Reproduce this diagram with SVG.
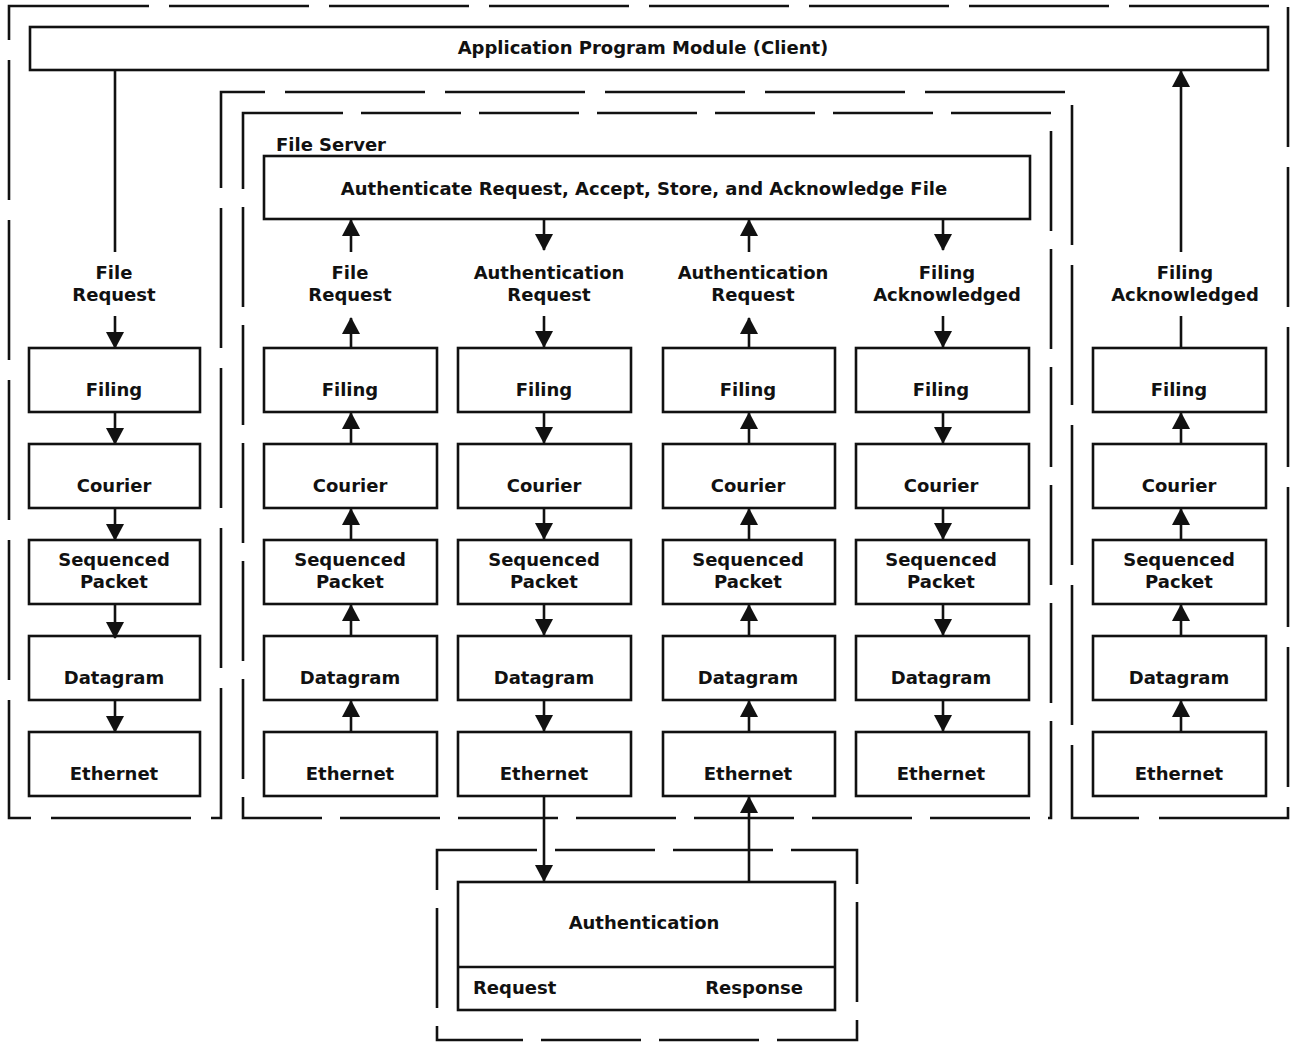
<svg xmlns="http://www.w3.org/2000/svg" width="1291" height="1042" viewBox="0 0 1291 1042">
<style>
.bg{fill:#fff}
.box{fill:#fff;stroke:#111;stroke-width:2.6}
.dash{fill:none;stroke:#111;stroke-width:2.6;stroke-dasharray:140 20}
.dash2{fill:none;stroke:#111;stroke-width:2.6;stroke-dasharray:100 18}
.ln{fill:none;stroke:#111;stroke-width:2.6}
.arr{fill:none;stroke:#111;stroke-width:2.6;marker-end:url(#ah)}
text{font-family:"DejaVu Sans","Open Sans",sans-serif;font-weight:bold;font-size:18px;fill:#111;text-anchor:middle}
.l{text-anchor:start}
.r{text-anchor:end}
</style>
<defs>
<marker id="ah" viewBox="0 0 17 18" refX="16" refY="9" markerWidth="17" markerHeight="18" markerUnits="userSpaceOnUse" orient="auto">
<path d="M0,0 L17,9 L0,18 z" fill="#111"/>
</marker>
</defs>
<rect class="bg" x="0" y="0" width="1291" height="1042"/>

<g id="client-boundary">
<path class="dash" d="M9,6 H1288 V818 H1072 V92 H221 V818 H9 Z"/>
</g>
<g id="server-boundary">
<path class="dash2" d="M243,113 H1051 V818 H243 Z"/>
</g>
<g id="auth-boundary">
<path class="dash2" d="M437,850 H857 V1040 H437 Z"/>
</g>

<g id="app-module">
<rect class="box" x="30" y="27" width="1238" height="43"/>
<text x="643" y="54">Application Program Module (Client)</text>
</g>

<g id="file-server-label">
<text class="l" x="276" y="151">File Server</text>
</g>

<g id="server-app">
<rect class="box" x="264" y="156" width="766" height="63"/>
<text x="644" y="195">Authenticate Request, Accept, Store, and Acknowledge File</text>
</g>

<!-- column 1 -->
<g id="c1-label"><text><tspan x="114" y="279">File</tspan><tspan x="114" y="301">Request</tspan></text></g>
<g id="c1-filing"><rect class="box" x="29" y="348" width="171" height="64"/><text x="114" y="396">Filing</text></g>
<g id="c1-courier"><rect class="box" x="29" y="444" width="171" height="64"/><text x="114" y="492">Courier</text></g>
<g id="c1-sp"><rect class="box" x="29" y="540" width="171" height="64"/><text><tspan x="114" y="566">Sequenced</tspan><tspan x="114" y="588">Packet</tspan></text></g>
<g id="c1-dg"><rect class="box" x="29" y="636" width="171" height="64"/><text x="114" y="684">Datagram</text></g>
<g id="c1-eth"><rect class="box" x="29" y="732" width="171" height="64"/><text x="114" y="780">Ethernet</text></g>

<!-- column 2 -->
<g id="c2-label"><text><tspan x="350" y="279">File</tspan><tspan x="350" y="301">Request</tspan></text></g>
<g id="c2-filing"><rect class="box" x="264" y="348" width="173" height="64"/><text x="350" y="396">Filing</text></g>
<g id="c2-courier"><rect class="box" x="264" y="444" width="173" height="64"/><text x="350" y="492">Courier</text></g>
<g id="c2-sp"><rect class="box" x="264" y="540" width="173" height="64"/><text><tspan x="350" y="566">Sequenced</tspan><tspan x="350" y="588">Packet</tspan></text></g>
<g id="c2-dg"><rect class="box" x="264" y="636" width="173" height="64"/><text x="350" y="684">Datagram</text></g>
<g id="c2-eth"><rect class="box" x="264" y="732" width="173" height="64"/><text x="350" y="780">Ethernet</text></g>

<!-- column 3 -->
<g id="c3-label"><text><tspan x="549" y="279">Authentication</tspan><tspan x="549" y="301">Request</tspan></text></g>
<g id="c3-filing"><rect class="box" x="458" y="348" width="173" height="64"/><text x="544" y="396">Filing</text></g>
<g id="c3-courier"><rect class="box" x="458" y="444" width="173" height="64"/><text x="544" y="492">Courier</text></g>
<g id="c3-sp"><rect class="box" x="458" y="540" width="173" height="64"/><text><tspan x="544" y="566">Sequenced</tspan><tspan x="544" y="588">Packet</tspan></text></g>
<g id="c3-dg"><rect class="box" x="458" y="636" width="173" height="64"/><text x="544" y="684">Datagram</text></g>
<g id="c3-eth"><rect class="box" x="458" y="732" width="173" height="64"/><text x="544" y="780">Ethernet</text></g>

<!-- column 4 -->
<g id="c4-label"><text><tspan x="753" y="279">Authentication</tspan><tspan x="753" y="301">Request</tspan></text></g>
<g id="c4-filing"><rect class="box" x="663" y="348" width="172" height="64"/><text x="748" y="396">Filing</text></g>
<g id="c4-courier"><rect class="box" x="663" y="444" width="172" height="64"/><text x="748" y="492">Courier</text></g>
<g id="c4-sp"><rect class="box" x="663" y="540" width="172" height="64"/><text><tspan x="748" y="566">Sequenced</tspan><tspan x="748" y="588">Packet</tspan></text></g>
<g id="c4-dg"><rect class="box" x="663" y="636" width="172" height="64"/><text x="748" y="684">Datagram</text></g>
<g id="c4-eth"><rect class="box" x="663" y="732" width="172" height="64"/><text x="748" y="780">Ethernet</text></g>

<!-- column 5 -->
<g id="c5-label"><text><tspan x="947" y="279">Filing</tspan><tspan x="947" y="301">Acknowledged</tspan></text></g>
<g id="c5-filing"><rect class="box" x="856" y="348" width="173" height="64"/><text x="941" y="396">Filing</text></g>
<g id="c5-courier"><rect class="box" x="856" y="444" width="173" height="64"/><text x="941" y="492">Courier</text></g>
<g id="c5-sp"><rect class="box" x="856" y="540" width="173" height="64"/><text><tspan x="941" y="566">Sequenced</tspan><tspan x="941" y="588">Packet</tspan></text></g>
<g id="c5-dg"><rect class="box" x="856" y="636" width="173" height="64"/><text x="941" y="684">Datagram</text></g>
<g id="c5-eth"><rect class="box" x="856" y="732" width="173" height="64"/><text x="941" y="780">Ethernet</text></g>

<!-- column 6 -->
<g id="c6-label"><text><tspan x="1185" y="279">Filing</tspan><tspan x="1185" y="301">Acknowledged</tspan></text></g>
<g id="c6-filing"><rect class="box" x="1093" y="348" width="173" height="64"/><text x="1179" y="396">Filing</text></g>
<g id="c6-courier"><rect class="box" x="1093" y="444" width="173" height="64"/><text x="1179" y="492">Courier</text></g>
<g id="c6-sp"><rect class="box" x="1093" y="540" width="173" height="64"/><text><tspan x="1179" y="566">Sequenced</tspan><tspan x="1179" y="588">Packet</tspan></text></g>
<g id="c6-dg"><rect class="box" x="1093" y="636" width="173" height="64"/><text x="1179" y="684">Datagram</text></g>
<g id="c6-eth"><rect class="box" x="1093" y="732" width="173" height="64"/><text x="1179" y="780">Ethernet</text></g>

<g id="authentication">
<rect class="box" x="458" y="882" width="377" height="128"/>
<line class="ln" x1="458" y1="967" x2="835" y2="967"/>
<text x="644" y="929">Authentication</text>
<text class="l" x="473" y="994">Request</text>
<text class="r" x="803" y="994">Response</text>
</g>

<g id="connectors">
<!-- col1 -->
<line class="ln" x1="115" y1="70" x2="115" y2="252"/>
<line class="arr" x1="115" y1="316" x2="115" y2="348"/>
<line class="arr" x1="115" y1="412" x2="115" y2="444"/>
<line class="arr" x1="115" y1="508" x2="115" y2="540"/>
<line class="arr" x1="115" y1="604" x2="115" y2="638"/>
<line class="arr" x1="115" y1="700" x2="115" y2="732"/>
<!-- col2 up -->
<line class="arr" x1="351" y1="252" x2="351" y2="220"/>
<line class="arr" x1="351" y1="348" x2="351" y2="318"/>
<line class="arr" x1="351" y1="444" x2="351" y2="413"/>
<line class="arr" x1="351" y1="540" x2="351" y2="509"/>
<line class="arr" x1="351" y1="636" x2="351" y2="605"/>
<line class="arr" x1="351" y1="732" x2="351" y2="701"/>
<!-- col3 down -->
<line class="arr" x1="544" y1="219" x2="544" y2="250"/>
<line class="arr" x1="544" y1="316" x2="544" y2="347"/>
<line class="arr" x1="544" y1="412" x2="544" y2="443"/>
<line class="arr" x1="544" y1="508" x2="544" y2="539"/>
<line class="arr" x1="544" y1="604" x2="544" y2="635"/>
<line class="arr" x1="544" y1="700" x2="544" y2="731"/>
<line class="arr" x1="544" y1="796" x2="544" y2="881"/>
<!-- col4 up -->
<line class="arr" x1="749" y1="252" x2="749" y2="220"/>
<line class="arr" x1="749" y1="348" x2="749" y2="318"/>
<line class="arr" x1="749" y1="444" x2="749" y2="413"/>
<line class="arr" x1="749" y1="540" x2="749" y2="509"/>
<line class="arr" x1="749" y1="636" x2="749" y2="605"/>
<line class="arr" x1="749" y1="732" x2="749" y2="701"/>
<line class="arr" x1="749" y1="882" x2="749" y2="797"/>
<!-- col5 down -->
<line class="arr" x1="943" y1="219" x2="943" y2="250"/>
<line class="arr" x1="943" y1="316" x2="943" y2="347"/>
<line class="arr" x1="943" y1="412" x2="943" y2="443"/>
<line class="arr" x1="943" y1="508" x2="943" y2="539"/>
<line class="arr" x1="943" y1="604" x2="943" y2="635"/>
<line class="arr" x1="943" y1="700" x2="943" y2="731"/>
<!-- col6 up -->
<line class="arr" x1="1181" y1="252" x2="1181" y2="71"/>
<line class="ln" x1="1181" y1="348" x2="1181" y2="316"/>
<line class="arr" x1="1181" y1="444" x2="1181" y2="413"/>
<line class="arr" x1="1181" y1="540" x2="1181" y2="509"/>
<line class="arr" x1="1181" y1="636" x2="1181" y2="605"/>
<line class="arr" x1="1181" y1="732" x2="1181" y2="701"/>
</g>
</svg>
